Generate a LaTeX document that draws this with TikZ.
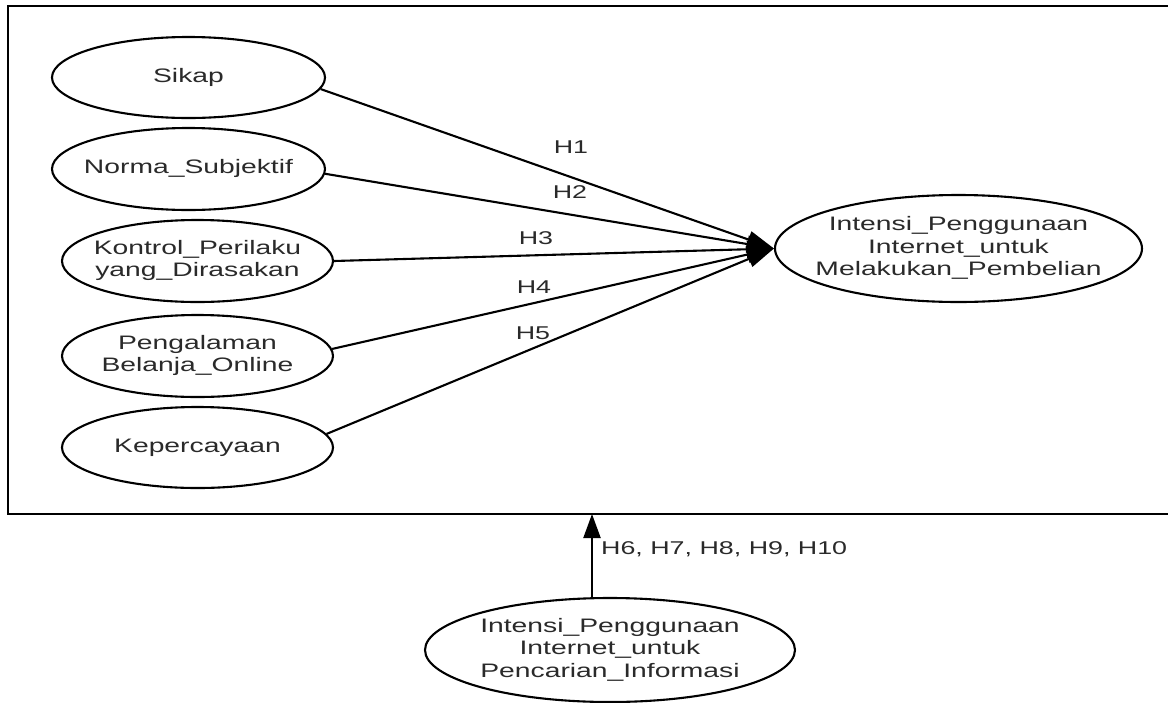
\documentclass[tikz,border=0pt]{standalone}
\usepackage{fontspec}
\setmainfont{Liberation Sans}[FakeStretch=1.45]
\usetikzlibrary{shapes.geometric,arrows.meta}
\definecolor{txt}{HTML}{2A2A2A}
\newcommand{\ctext}[1]{\makebox[0pt][c]{\begin{tabular}{@{}c@{}}#1\end{tabular}}}
\begin{document}
\begin{tikzpicture}[x=1pt,y=-1pt,
  var/.style={ellipse,draw=black,line width=2.1pt,inner sep=0pt,fill=white,
    text=txt,font=\fontsize{19.5}{22.5}\selectfont},
  conn/.style={line width=2.1pt,-{Triangle[length=27pt,width=17pt]}},
  hlab/.style={text=txt,font=\fontsize{18.5}{21}\selectfont,inner sep=0pt}]
\useasboundingbox (0,0) rectangle (1168,702);
\fill[white] (0,0) rectangle (1168,702);
\draw[line width=2.1pt] (1170,6) -- (8,6) -- (8,514) -- (1170,514);
\coordinate (frameb) at (592,514);

\node[var,minimum width=273pt,minimum height=81pt] (sikap) at (188.5,77.5) {\ctext{Sikap}};
\node[var,minimum width=273pt,minimum height=82pt] (norma) at (188.5,169) {\ctext{Norma\_Subjektif}};
\node[var,minimum width=271pt,minimum height=82pt] (kontrol) at (197.5,261) {\ctext{Kontrol\_Perilaku\\yang\_Dirasakan}};
\node[var,minimum width=271pt,minimum height=82pt] (peng) at (197.5,356) {\ctext{Pengalaman\\Belanja\_Online}};
\node[var,minimum width=271pt,minimum height=81pt] (kep) at (197.5,447.5) {\ctext{Kepercayaan}};
\node[var,minimum width=367pt,minimum height=107pt] (beli) at (958.5,248.5) {\ctext{Intensi\_Penggunaan\\Internet\_untuk\\Melakukan\_Pembelian}};
\node[var,minimum width=370pt,minimum height=104pt] (cari) at (610,650) {\ctext{Intensi\_Penggunaan\\Internet\_untuk\\Pencarian\_Informasi}};

\draw[conn] (sikap.-5) -- (beli.west);
\draw[conn] (norma.-2) -- (beli.west);
\draw[conn] (kontrol.0) -- (beli.west);
\draw[conn] (peng.3) -- (beli.west);
\draw[conn] (kep.6) -- (beli.west);
\draw[line width=2.1pt,-{Triangle[length=24pt,width=17pt]}] (cari.north -| frameb) -- (frameb);

\node[hlab] (h1) at (571,147) {H1};
\node[hlab] (h2) at (570,192) {H2};
\node[hlab] (h3) at (536,238) {H3};
\node[hlab] (h4) at (534,287) {H4};
\node[hlab] (h5) at (533,333) {H5};
\node[hlab,anchor=west] (h6) at (601,549) {H6, H7, H8, H9, H10};
\end{tikzpicture}
\end{document}
